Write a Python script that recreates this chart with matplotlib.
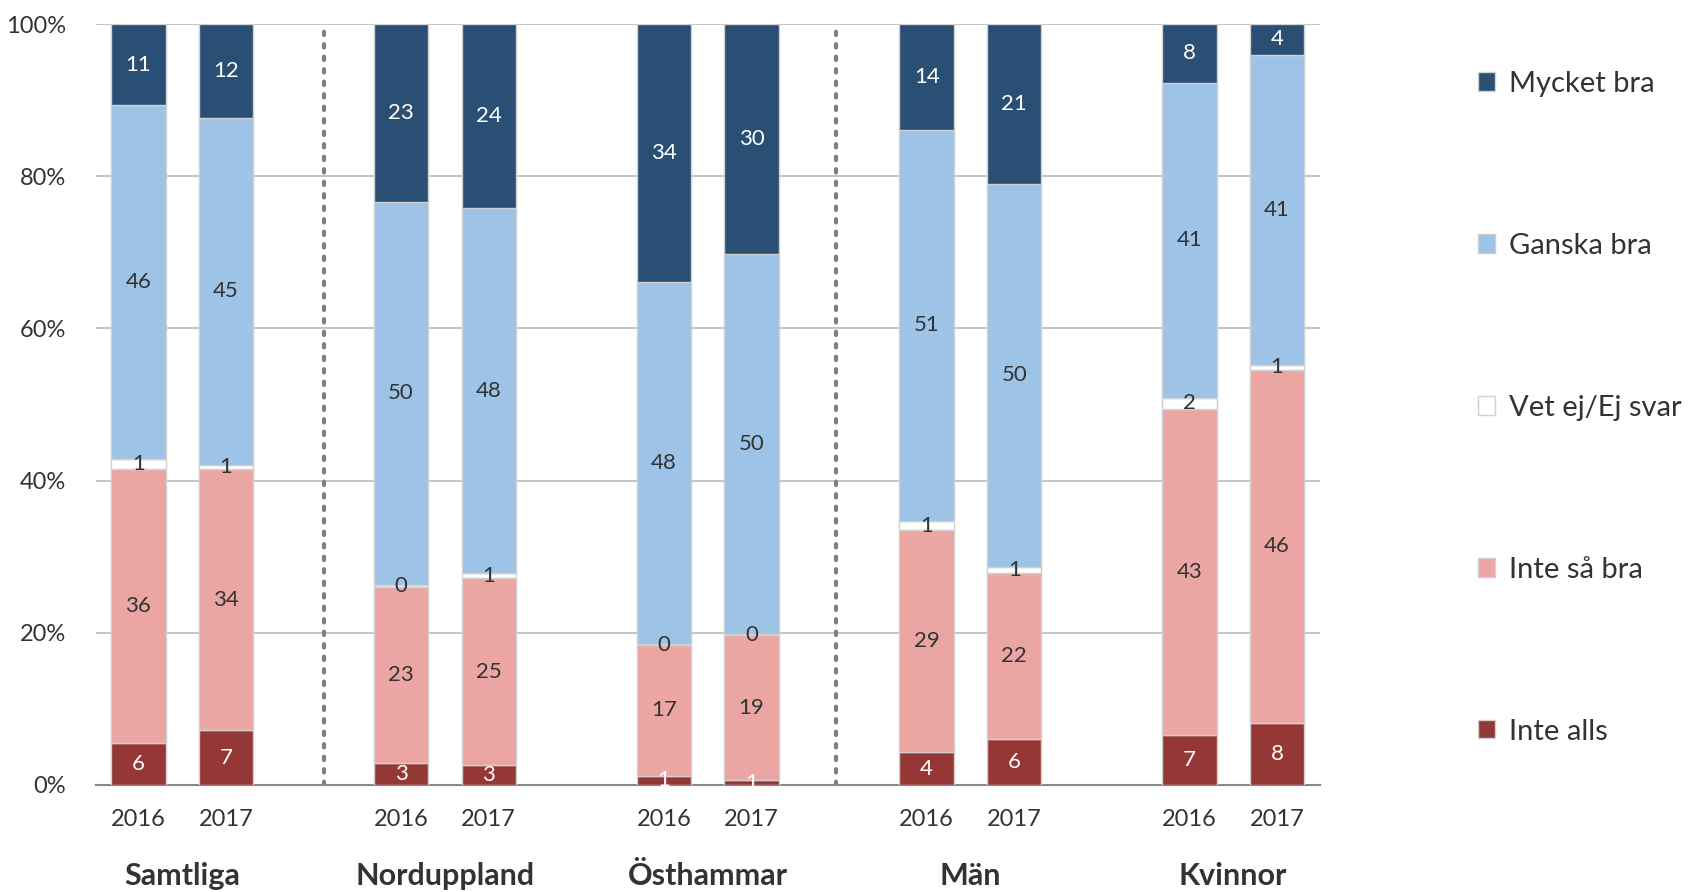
import matplotlib
matplotlib.use("Agg")
import matplotlib.pyplot as plt
from matplotlib.patches import Patch
import numpy as np

plt.rcParams['font.family'] = ['Lato', 'DejaVu Sans']

# Data (procent), ordning nerifrån och upp
grupper = ['Samtliga', 'Norduppland', 'Östhammar', 'Män', 'Kvinnor']
ar = ['2016', '2017'] * 5
kategorier = ['Inte alls', 'Inte så bra', 'Vet ej/Ej svar', 'Ganska bra', 'Mycket bra']

inte_alls   = [5.5, 7.2, 2.9, 2.6, 1.2, 0.6, 4.3, 6.1, 6.6, 8.2]
inte_sa_bra = [36.0, 34.3, 23.1, 24.6, 17.2, 19.1, 29.2, 21.7, 42.8, 46.4]
vet_ej      = [1.3, 0.6, 0.3, 0.6, 0.1, 0.1, 1.2, 0.9, 1.5, 0.6]
ganska_bra  = [46.5, 45.6, 50.3, 48.0, 47.6, 50.0, 51.4, 50.3, 41.4, 40.8]
mycket_bra  = [10.7, 12.3, 23.4, 24.2, 33.9, 30.2, 13.9, 21.0, 7.7, 4.0]

etiketter = {
    'Inte alls':      [6, 7, 3, 3, 1, 1, 4, 6, 7, 8],
    'Inte så bra':    [36, 34, 23, 25, 17, 19, 29, 22, 43, 46],
    'Vet ej/Ej svar': [1, 1, 0, 1, 0, 0, 1, 1, 2, 1],
    'Ganska bra':     [46, 45, 50, 48, 48, 50, 51, 50, 41, 41],
    'Mycket bra':     [11, 12, 23, 24, 34, 30, 14, 21, 8, 4],
}

varden = [inte_alls, inte_sa_bra, vet_ej, ganska_bra, mycket_bra]
farger = ['#953735', '#EBA6A4', '#FFFFFF', '#9DC3E6', '#2A4F74']
textfarg = ['white', '#333333', '#333333', '#333333', 'white']

x = np.array([0, 1, 3, 4, 6, 7, 9, 10, 12, 13])

fig = plt.figure(figsize=(16.9, 8.92), dpi=100)
ax = fig.add_axes([0.057, 0.12, 0.724, 0.853])

botten = np.zeros(len(x))
for kat, v, f, tf in zip(kategorier, varden, farger, textfarg):
    v = np.array(v)
    ax.bar(x, v, 0.62, bottom=botten, color=f, edgecolor='#D0D0D0',
           linewidth=1, label=kat, zorder=3)
    for xi, b, h, lab in zip(x, botten, v, etiketter[kat]):
        ax.text(xi, b + h / 2, str(lab), ha='center', va='center',
                fontsize=16, color=tf, zorder=4)
    botten += v

ax.set_ylim(0, 100)
ax.set_xlim(-0.48, 13.49)
ax.set_yticks([0, 20, 40, 60, 80, 100])
ax.set_yticklabels(['0%', '20%', '40%', '60%', '80%', '100%'], fontsize=17, color='#333333')
ax.set_xticks(x)
ax.set_xticklabels(ar, fontsize=17, color='#333333')
ax.tick_params(length=0, pad=17)
ax.tick_params(axis='y', pad=22)
ax.yaxis.grid(True, color='#BFBFBF', linewidth=1.3, zorder=0)
for s in ['top', 'right', 'left']:
    ax.spines[s].set_visible(False)
ax.spines['bottom'].set_color('#888888')
ax.spines['bottom'].set_linewidth(1.5)

# prickade avdelare
for xs in [2.12, 7.97]:
    ax.axvline(xs, color='#7F7F7F', linestyle=(0, (0.8, 2.2)), linewidth=3,
               dash_capstyle='round', zorder=2)

for i, g in enumerate(grupper):
    xm = (x[2 * i] + x[2 * i + 1]) / 2
    ax.text(xm, -12.0, g, ha='center', va='center', fontsize=22,
            fontweight='bold', color='#333333')

handles = [Patch(facecolor=f, edgecolor='#D0D0D0', label=k)
           for k, f in zip(kategorier, farger)][::-1]
fig.legend(handles=handles, loc='upper left', bbox_to_anchor=(0.859, 0.95),
           frameon=False, fontsize=21, labelspacing=4.66, handlelength=0.6,
           handleheight=0.6, handletextpad=0.45, labelcolor='#333333')

fig.savefig('out.png', dpi=100)
